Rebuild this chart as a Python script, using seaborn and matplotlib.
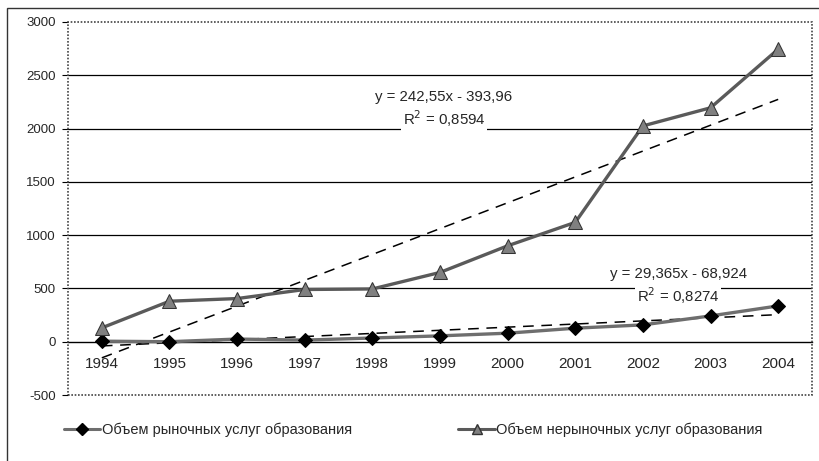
import numpy as np
import pandas as pd
import matplotlib
matplotlib.use("Agg")
import matplotlib.pyplot as plt
from matplotlib.patches import Rectangle
from matplotlib.lines import Line2D
import seaborn as sns

# ---- data ----
years = ["1994", "1995", "1996", "1997", "1998", "1999", "2000", "2001", "2002", "2003", "2004"]
market = [5, 0, 25, 15, 35, 55, 80, 127, 158, 242, 336]
nonmarket = [130, 380, 405, 490, 495, 650, 900, 1120, 2025, 2195, 2745]
series_names = ["Объем рыночных услуг образования", "Объем нерыночных услуг образования"]
trend_market = [29.365, -68.924]       # slope, intercept (x = 1..11)
trend_nonmarket = [242.55, -393.96]
eq_market = ["y = 29,365x - 68,924", "R$^2$ = 0,8274"]
eq_nonmarket = ["y = 242,55x - 393,96", "R$^2$ = 0,8594"]
yticks = [-500, 0, 500, 1000, 1500, 2000, 2500, 3000]

sns.set_theme(style="white")
plt.rcParams['font.family'] = ['Liberation Sans', 'DejaVu Sans']

fig = plt.figure(figsize=(8.2, 4.61), dpi=100)
ax = fig.add_axes([68/820, 1-395/461, (812-68)/820, (395-22)/461])

xpos = np.arange(len(years))
df = pd.DataFrame({"x": np.concatenate([xpos, xpos]),
                   "y": market + nonmarket,
                   "s": [series_names[0]]*len(years) + [series_names[1]]*len(years)})

# gridlines
for v in yticks[1:-1]:
    if v != 0:
        ax.axhline(v, color="black", lw=0.9, zorder=0)

# trend lines
xt = np.array([xpos[0], xpos[-1]], dtype=float)
for tr in (trend_market, trend_nonmarket):
    ax.plot(xt, tr[0]*(xt+1)+tr[1], color="black", lw=1.1, ls=(0, (7, 5)), zorder=2)

sns.lineplot(data=df[df.s == series_names[0]], x="x", y="y", ax=ax, color="#6e6e6e",
             lw=2.4, marker="D", markersize=7.5, markerfacecolor="black",
             markeredgecolor="black", legend=False, zorder=3)
sns.lineplot(data=df[df.s == series_names[1]], x="x", y="y", ax=ax, color="#5a5a5a",
             lw=2.4, marker="^", markersize=10, markerfacecolor="#808080",
             markeredgecolor="#333333", legend=False, zorder=3)

ax.set_xlim(-0.5, len(years)-0.5)
ax.set_ylim(-500, 3000)
ax.set_yticks(yticks)
ax.set_yticklabels([str(v) for v in yticks], fontsize=9.5)
ax.set_xticks(xpos)
ax.set_xticklabels(years, fontsize=10)
ax.set_xticks(np.arange(-0.5, len(years)), minor=True)
ax.set_xlabel("")
ax.set_ylabel("")

for s in ["top", "right", "left"]:
    ax.spines[s].set_visible(False)
ax.spines["bottom"].set_position(("data", 0))
ax.spines["bottom"].set_color("black")
ax.spines["bottom"].set_linewidth(1.0)
ax.tick_params(axis="x", which="major", length=0, pad=11)
ax.tick_params(axis="x", which="minor", length=4, direction="out", color="black", width=0.8)
ax.tick_params(axis="y", which="major", length=4, direction="out", color="black", width=0.8, pad=5, left=True)

# plot-area frame
ax.add_patch(Rectangle((0, 0), 1, 1, transform=ax.transAxes, fill=False,
                       edgecolor="#444444", lw=1.2, ls=(0, (1, 1)), zorder=5, clip_on=False))

# equation labels
box = dict(facecolor="white", edgecolor="none", pad=1.5)
ax.text(5.06, 2293, eq_nonmarket[0], ha="center", va="center", fontsize=10.8, zorder=4, bbox=box)
ax.text(5.06, 2096, eq_nonmarket[1], ha="center", va="center", fontsize=10.8, zorder=4, bbox=box)
ax.text(8.52, 633, eq_market[0], ha="center", va="center", fontsize=10.8, zorder=4, bbox=box)
ax.text(8.52, 430, eq_market[1], ha="center", va="center", fontsize=10.8, zorder=4, bbox=box)

# legend
handles = [Line2D([], [], color="#6e6e6e", lw=2.2, marker="D", markersize=6,
                  markerfacecolor="black", markeredgecolor="black"),
           Line2D([], [], color="#5a5a5a", lw=2.2, marker="^", markersize=7,
                  markerfacecolor="#808080", markeredgecolor="#333333")]
fig.legend(handles, series_names, loc="center", bbox_to_anchor=(0.504, 1-430/461), ncol=2,
           frameon=False, fontsize=10.5, handlelength=2.5, handletextpad=0.1,
           columnspacing=7.3)

# outer chart border
fig.add_artist(Rectangle((7/820, -0.01), 1.02, 1-8/461+0.01, transform=fig.transFigure,
                         fill=False, edgecolor="#333333", lw=1.0))

fig.savefig("out.png", dpi=100, facecolor="white")
